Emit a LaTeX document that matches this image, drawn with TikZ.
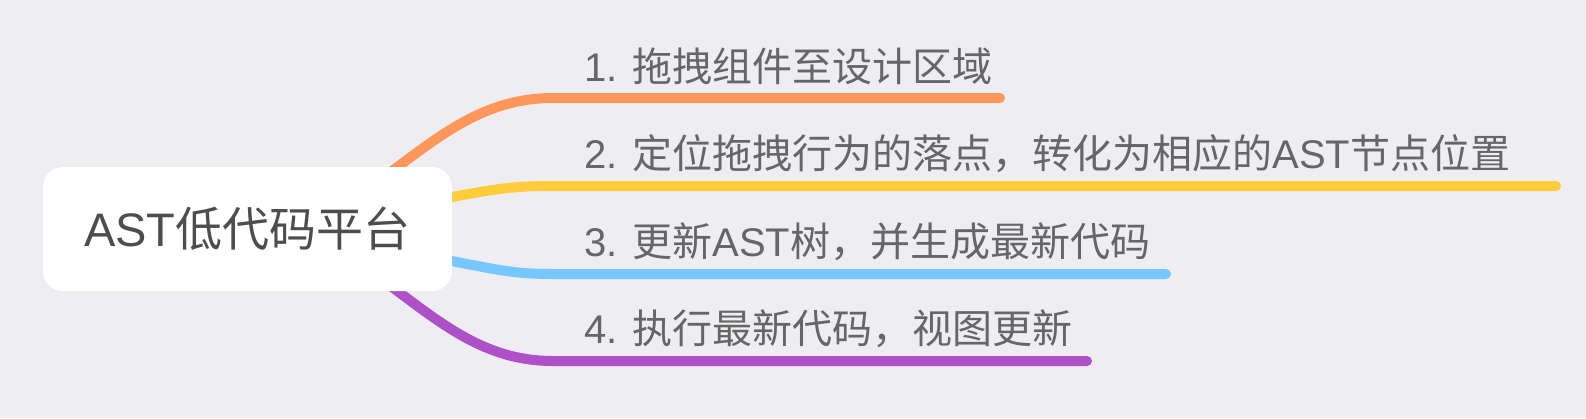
\documentclass[tikz,border=0pt]{standalone}
\usepackage{fontspec}
\setmainfont{Liberation Sans}
\newfontfamily\cjk{Noto Sans CJK SC}
\usetikzlibrary{positioning}

\definecolor{bgcol}{RGB}{238,237,242}
\definecolor{rootcol}{RGB}{77,77,77}
\definecolor{textcol}{RGB}{102,102,102}
\definecolor{orangecol}{RGB}{255,150,90}
\definecolor{yellowcol}{RGB}{255,204,60}
\definecolor{bluecol}{RGB}{118,198,255}
\definecolor{purplecol}{RGB}{174,80,200}

\pgfdeclarelayer{back}
\pgfdeclarelayer{lines}
\pgfsetlayers{back,lines,main}

\begin{document}
\begin{tikzpicture}[x=0.5pt,y=0.5pt,yscale=-1,xscale=1,
    rootbox/.style={fill=white, rounded corners=10pt, minimum width=204.5pt, minimum height=62pt, inner sep=0pt, text=rootcol, font=\fontsize{23.5pt}{28pt}\selectfont},
    itemtext/.style={anchor=base west, inner sep=0pt, text=textcol, font=\fontsize{20pt}{24pt}\selectfont},
    branch/.style={line width=5pt, line cap=round}]

    %Background
    \begin{pgfonlayer}{back}
        \fill [bgcol] (0,0) rectangle (1586,418);
    \end{pgfonlayer}
    \useasboundingbox (0,0) rectangle (1586,418);

    %Shape: Rounded Rectangle
    \node [rootbox] (root) at (247.5,229) {AST{\cjk 低代码平台}};

    %Branch start and end points
    \coordinate (s1) at (553,98);   \coordinate (e1) at (1000,98);
    \coordinate (s2) at (553,186);  \coordinate (e2) at (1556,186);
    \coordinate (s3) at (553,274);  \coordinate (e3) at (1166,274);
    \coordinate (s4) at (553,361);  \coordinate (e4) at (1087,361);

    %Curves
    \begin{pgfonlayer}{lines}
        \draw [branch, orangecol] ([shift={(-40pt,9.5pt)}]root.north east) .. controls (435,140) and (480,98) .. (s1) -- (e1);
        \draw [branch, yellowcol] ([shift={(-11pt,-14pt)}]root.east) .. controls (495,189) and (510,186) .. (s2) -- (e2);
        \draw [branch, bluecol] ([shift={(-11pt,14pt)}]root.east) .. controls (495,269) and (510,274) .. (s3) -- (e3);
        \draw [branch, purplecol] ([shift={(-40pt,-9.5pt)}]root.south east) .. controls (435,318) and (480,361) .. (s4) -- (e4);
    \end{pgfonlayer}

    % Text Node
    \node [itemtext] (t1) at (584,81) {1. {\cjk 拖拽组件至设计区域}};
    % Text Node
    \node [itemtext] (t2) at (584,168) {2. {\cjk 定位拖拽行为的落点，转化为相应的}AST{\cjk 节点位置}};
    % Text Node
    \node [itemtext] (t3) at (584,256) {3. {\cjk 更新}AST{\cjk 树，并生成最新代码}};
    % Text Node
    \node [itemtext] (t4) at (584,343) {4. {\cjk 执行最新代码，视图更新}};

\end{tikzpicture}
\end{document}
